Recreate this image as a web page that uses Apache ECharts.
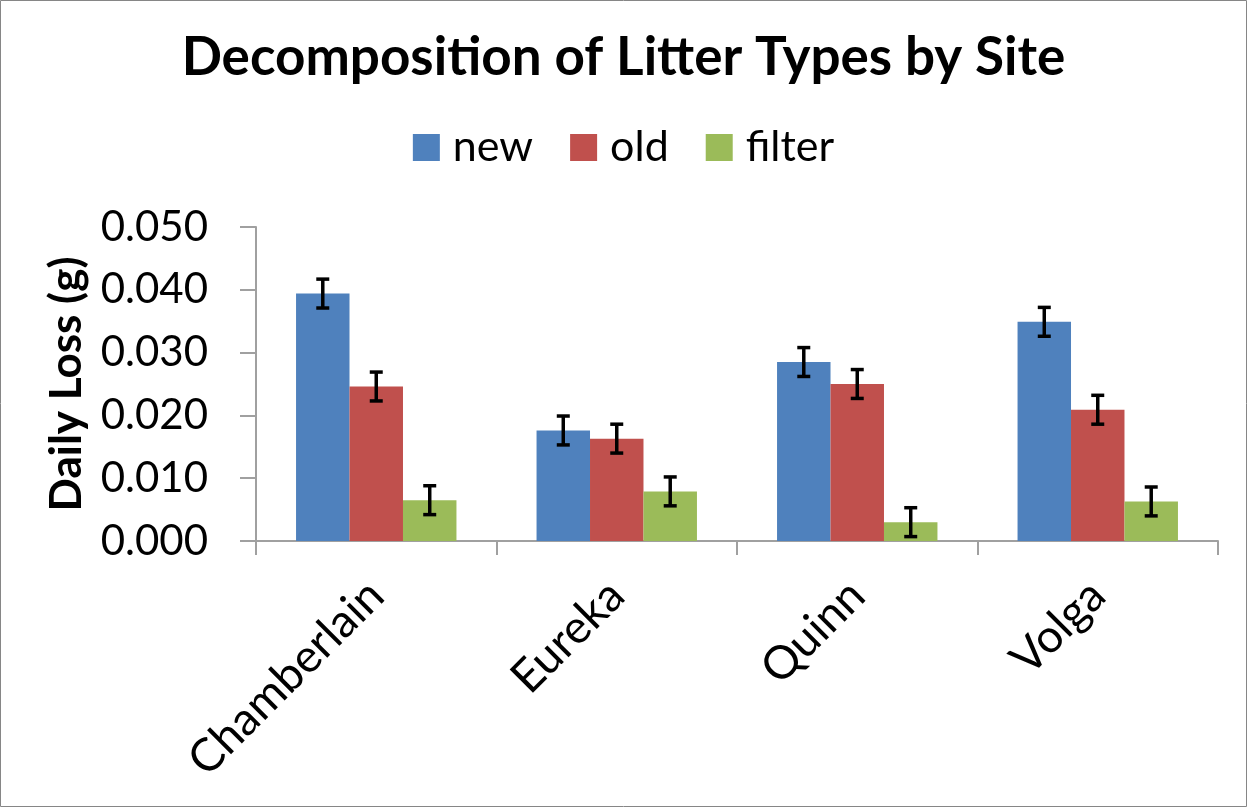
<!DOCTYPE html>
<html lang="en">
<head>
    <meta charset="UTF-8">
    <title>Decomposition of Litter Types by Site</title>
    <script src="https://cdn.jsdelivr.net/npm/echarts@6/dist/echarts.min.js"></script>
    <style>
        html, body { margin: 0; padding: 0; background: #fff; }
    </style>
</head>
<body>
<div id="chart" style="width: 1247px; height: 807px;"></div>
<script>
    var sites = ['Chamberlain', 'Eureka', 'Quinn', 'Volga'];
    var seriesNames = ['new', 'old', 'filter'];
    var newLoss = [0.0394, 0.0176, 0.0285, 0.0349];
    var oldLoss = [0.0246, 0.0163, 0.0250, 0.0209];
    var filterLoss = [0.0065, 0.0079, 0.0030, 0.0063];
    var newErr = [0.0023, 0.0023, 0.0023, 0.0023];
    var oldErr = [0.0023, 0.0023, 0.0023, 0.0023];
    var filterErr = [0.0023, 0.0023, 0.0023, 0.0023];
    var colors = ['#4F81BD', '#C0504D', '#9BBB59'];

    var GAP = 0.333;
    var font = 'Lato, "Open Sans", sans-serif';

    function errorSeries(idx, values, errs) {
        return {
            type: 'custom',
            name: seriesNames[idx] + ' err',
            silent: true,
            z: 5,
            data: values.map(function (v, i) { return [i, v, errs[i]]; }),
            renderItem: function (params, api) {
                var xi = api.value(0), y = api.value(1), e = api.value(2);
                var cw = api.size([1, 0])[0];
                var bw = cw * (1 - GAP) / 3;
                var cx = api.coord([xi, y])[0] + (idx - 1) * bw;
                var top = api.coord([xi, y + e])[1];
                var bot = api.coord([xi, y - e])[1];
                var st = { stroke: '#000', lineWidth: 3.5 };
                return {
                    type: 'group',
                    children: [
                        { type: 'line', shape: { x1: cx, y1: top, x2: cx, y2: bot }, style: st },
                        { type: 'line', shape: { x1: cx - 6.5, y1: top, x2: cx + 6.5, y2: top }, style: st },
                        { type: 'line', shape: { x1: cx - 6.5, y1: bot, x2: cx + 6.5, y2: bot }, style: st }
                    ]
                };
            }
        };
    }

    var chart = echarts.init(document.getElementById('chart'));
    chart.setOption({
        animation: false,
        color: colors,
        graphic: [{
            type: 'rect',
            shape: { x: 0.5, y: 0.5, width: 1246, height: 806 },
            style: { fill: 'none', stroke: '#868686', lineWidth: 1 }
        }],
        title: {
            text: 'Decomposition of Litter Types by Site',
            left: 'center',
            top: 26,
            textStyle: { fontFamily: font, fontWeight: 'bold', fontSize: 53, color: '#000' }
        },
        legend: {
            data: seriesNames,
            top: 121,
            left: 'center',
            icon: 'rect',
            itemWidth: 27,
            itemHeight: 27,
            itemGap: 37,
            textStyle: { fontFamily: font, fontSize: 43, color: '#000', padding: [0, 0, 0, 8] }
        },
        grid: { left: 256, right: 29, top: 227, bottom: 266, containLabel: false },
        xAxis: {
            type: 'category',
            data: sites,
            axisLine: { lineStyle: { color: '#a0a0a0', width: 2 } },
            axisTick: { show: true, length: 14, lineStyle: { color: '#a0a0a0', width: 2 } },
            axisLabel: { rotate: 45, margin: 47, fontFamily: font, fontSize: 46, color: '#000' }
        },
        yAxis: {
            type: 'value',
            min: 0,
            max: 0.05,
            interval: 0.01,
            name: 'Daily Loss (g)',
            nameLocation: 'middle',
            nameGap: 167,
            nameTextStyle: { fontFamily: font, fontWeight: 'bold', fontSize: 44, color: '#000' },
            splitLine: { show: false },
            axisLine: { show: true, lineStyle: { color: '#a0a0a0', width: 2 } },
            axisTick: { show: true, length: 16, lineStyle: { color: '#a0a0a0', width: 2 } },
            axisLabel: {
                margin: 48,
                fontFamily: font,
                fontSize: 42,
                color: '#000',
                formatter: function (v) { return v.toFixed(3); }
            }
        },
        series: [
            { name: 'new', type: 'bar', data: newLoss, barGap: 0, barCategoryGap: '33.3%' },
            { name: 'old', type: 'bar', data: oldLoss, barGap: 0, barCategoryGap: '33.3%' },
            { name: 'filter', type: 'bar', data: filterLoss, barGap: 0, barCategoryGap: '33.3%' },
            errorSeries(0, newLoss, newErr),
            errorSeries(1, oldLoss, oldErr),
            errorSeries(2, filterLoss, filterErr)
        ]
    });
</script>
</body>
</html>
